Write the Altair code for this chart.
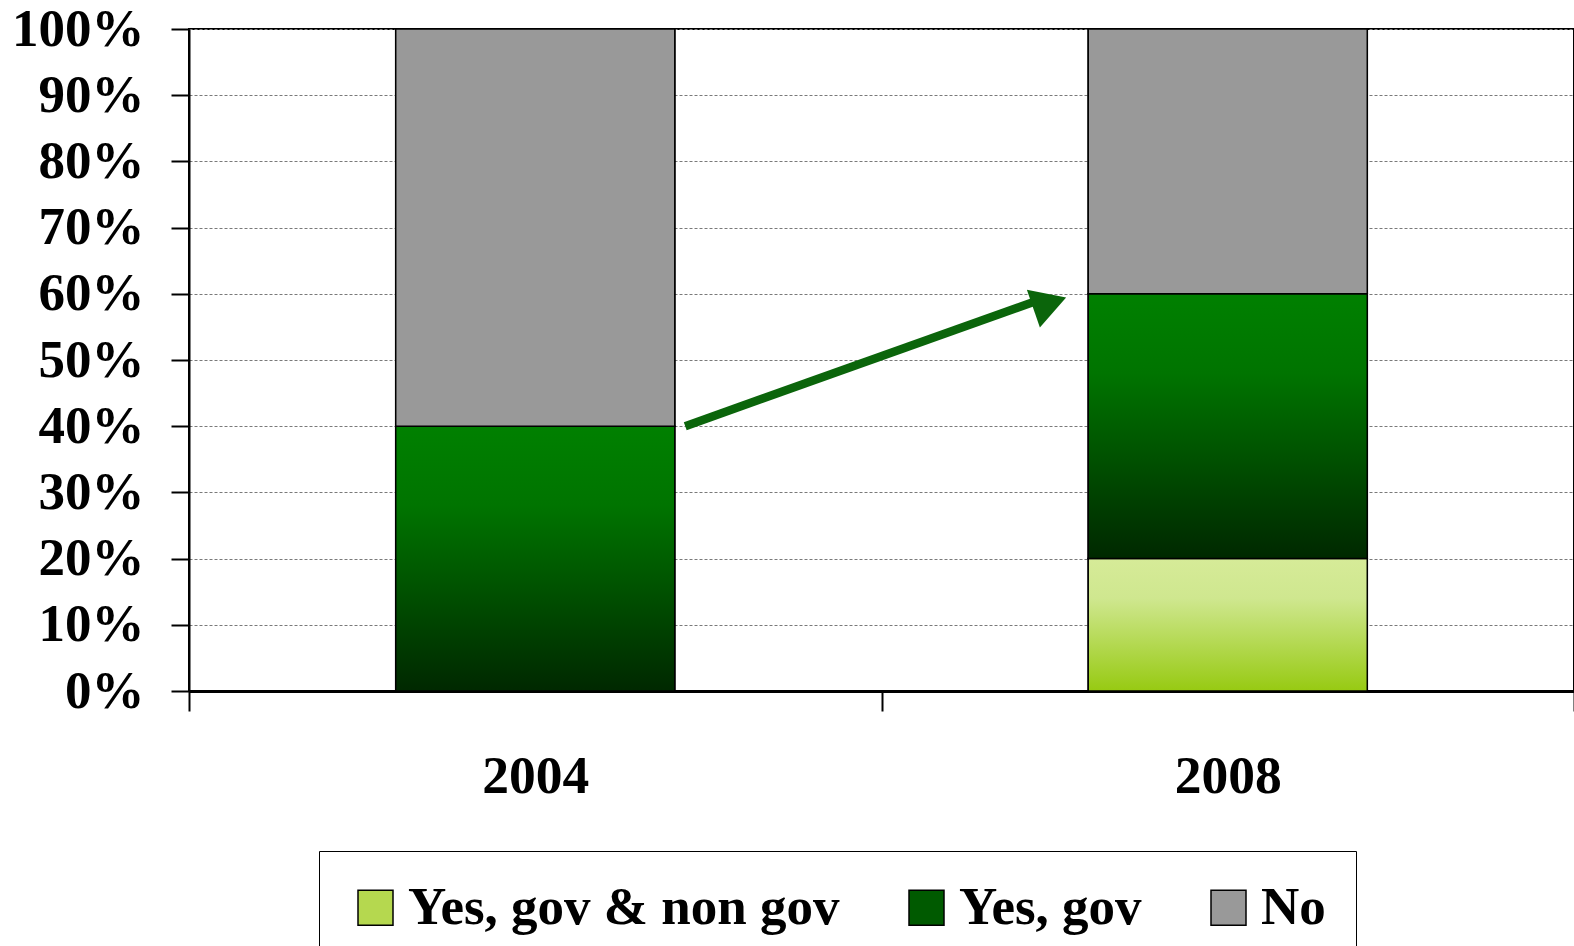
import altair as alt
import pandas as pd

# ---- data ----
years = ["2004", "2008"]
series = ["Yes, gov & non gov", "Yes, gov", "No"]
yes_gov_nongov = [0.0, 0.20]
yes_gov = [0.40, 0.40]
no_share = [0.60, 0.40]

# arrow annotation: from 2004 "Yes" top to 2008 "Yes" top
arrow_years = ["2004", "2008"]
arrow_values = [0.40, 0.59]
arrow_head_value = [0.586]

# ---- styling ----
solid_colors = ["#b5d84f", "#005a00", "#999999"]
gradients = [
    {"gradient": "linear", "x1": 0, "x2": 0, "y1": 0, "y2": 1,
     "stops": [{"offset": 0, "color": "#d6eb98"}, {"offset": 0.3, "color": "#cfe78f"},
               {"offset": 1, "color": "#97ca12"}]},
    {"gradient": "linear", "x1": 0, "x2": 0, "y1": 0, "y2": 1,
     "stops": [{"offset": 0, "color": "#008000"}, {"offset": 0.3, "color": "#007400"},
               {"offset": 1, "color": "#002800"}]},
    {"gradient": "linear", "x1": 0, "x2": 0, "y1": 0, "y2": 1,
     "stops": [{"offset": 0, "color": "#999999"}, {"offset": 1, "color": "#999999"}]},
]
FONT = "Liberation Serif"
BAR_BAND = 0.403

rows = []
for i, yr in enumerate(years):
    base = 0.0
    for s, vals in zip(series, [yes_gov_nongov, yes_gov, no_share]):
        v = vals[i]
        if v > 0:
            rows.append({"year": yr, "series": s, "lo": base, "hi": base + v})
        base += v
df = pd.DataFrame(rows)

arrow_df = pd.DataFrame({"year": [arrow_years[0]], "year2": [arrow_years[1]],
                         "lo": [arrow_values[0]], "hi": [arrow_values[1]]})
head_df = pd.DataFrame({"year": [arrow_years[1]], "lo": arrow_head_value})

x_enc = alt.X(
    "year:N",
    sort=years,
    scale=alt.Scale(paddingInner=0, paddingOuter=0),
    axis=alt.Axis(
        title=None, labelAngle=0, labelFont=FONT, labelFontSize=53.5, labelFontWeight="bold",
        labelColor="black", labelPadding=39, tickBand="extent", tickSize=20, tickWidth=2,
        tickColor="black", domainColor="black", domainWidth=3, grid=False,
    ),
)
y_enc = alt.Y(
    "lo:Q",
    scale=alt.Scale(domain=[0, 1], nice=False),
    axis=alt.Axis(
        title=None, format=".0%", values=[i / 10 for i in range(11)], labelFont=FONT,
        labelFontSize=53, labelFontWeight="bold", labelColor="black", labelPadding=27,
        tickSize=18, tickWidth=2, tickColor="black", domainColor="black", domainWidth=2,
        grid=True, gridColor="#7a7a7a", gridDash=[3, 2], gridWidth=1,
    ),
)

base_bars = alt.Chart(df).mark_bar(
    stroke="black", strokeWidth=1.5, width=alt.RelativeBandSize(band=BAR_BAND)
).encode(
    x=x_enc,
    y=y_enc,
    y2="hi:Q",
    color=alt.Color(
        "series:N",
        scale=alt.Scale(domain=series, range=solid_colors),
        title=None,
        legend=alt.Legend(
            orient="none", legendX=130, legendY=822, direction="horizontal", columns=3,
            labelFont=FONT, labelFontSize=53, labelFontWeight="bold", labelColor="black",
            labelLimit=0, labelOffset=6, columnPadding=60, padding=30,
            symbolType="square", symbolSize=1225, symbolStrokeColor="black",
            symbolStrokeWidth=1.5, symbolOpacity=1, strokeColor="black",
        ),
    ),
)

grad_layers = []
for s, g in zip(series, gradients):
    grad_layers.append(
        alt.Chart(df).transform_filter(alt.datum.series == s)
        .mark_bar(stroke="black", strokeWidth=1.5, fill=g,
                  width=alt.RelativeBandSize(band=BAR_BAND))
        .encode(x=x_enc, y=y_enc, y2="hi:Q")
    )

arrow = alt.Chart(arrow_df).mark_rule(
    color="#0b650b", strokeWidth=8.5, xOffset=150, x2Offset=-190
).encode(x=x_enc, x2="year2:N", y=y_enc, y2="hi:Q")

head = alt.Chart(head_df).mark_point(
    shape="triangle-right", filled=True, color="#0b650b", opacity=1,
    size=1600, angle=341, xOffset=-178
).encode(x=x_enc, y=y_enc)

chart = alt.layer(base_bars, *grad_layers, arrow, head).properties(
    width=1385, height=662,
    autosize=alt.AutoSizeParams(type="none"),
    padding={"left": 189, "top": 29, "right": 0, "bottom": 255},
    background="white",
).configure_view(stroke="black", strokeWidth=2)

chart.save("out.html", embed_options={"renderer": "svg", "actions": False})
